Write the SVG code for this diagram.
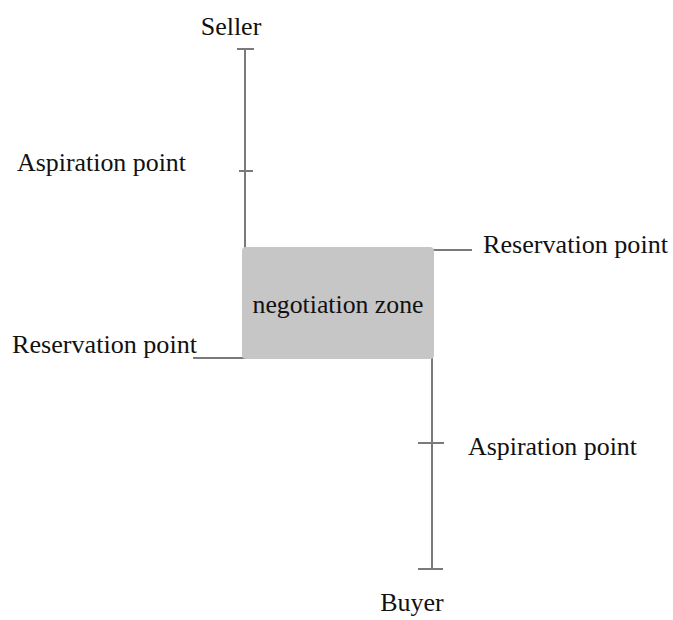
<svg xmlns="http://www.w3.org/2000/svg" width="673" height="620" viewBox="0 0 673 620">
<style>
.ln{stroke:#7a7a7a;stroke-width:2;fill:none}
.t{font-family:"Liberation Serif","Times New Roman",serif;font-size:26px;fill:#111}
</style>
<rect width="673" height="620" fill="#fff"/>
<g id="connectors">
<line class="ln" x1="245" y1="49" x2="245" y2="250"/>
<line class="ln" x1="237" y1="49" x2="254" y2="49"/>
<line class="ln" x1="239" y1="171" x2="253" y2="171"/>
<line class="ln" x1="430" y1="250" x2="472" y2="250"/>
<line class="ln" x1="193" y1="358" x2="246" y2="358"/>
<line class="ln" x1="432" y1="356" x2="432" y2="569"/>
<line class="ln" x1="418" y1="443" x2="444" y2="443"/>
<line class="ln" x1="418" y1="569" x2="443" y2="569"/>
</g>
<g id="zone">
<rect x="242" y="247" width="192" height="112" rx="4" fill="#c6c6c6"/>
<text class="t" x="338" y="313" text-anchor="middle" textLength="171" lengthAdjust="spacingAndGlyphs">negotiation zone</text>
</g>
<g id="seller"><text class="t" x="231" y="35" text-anchor="middle">Seller</text></g>
<g id="seller-aspiration"><text class="t" x="17" y="171" textLength="169" lengthAdjust="spacingAndGlyphs">Aspiration point</text></g>
<g id="seller-reservation"><text class="t" x="483" y="253" textLength="185" lengthAdjust="spacingAndGlyphs">Reservation point</text></g>
<g id="buyer-reservation"><text class="t" x="12" y="353" textLength="185" lengthAdjust="spacingAndGlyphs">Reservation point</text></g>
<g id="buyer-aspiration"><text class="t" x="468" y="455" textLength="169" lengthAdjust="spacingAndGlyphs">Aspiration point</text></g>
<g id="buyer"><text class="t" x="412" y="611" text-anchor="middle">Buyer</text></g>
</svg>
